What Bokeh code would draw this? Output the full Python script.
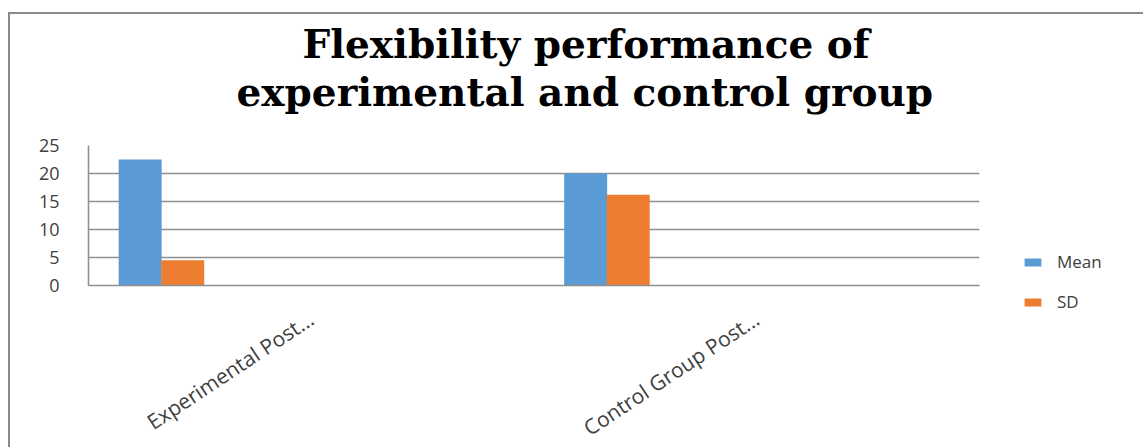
from bokeh.plotting import figure
from bokeh.models import (ColumnDataSource, FactorRange, Range1d, FixedTicker, Title,
                          Legend, LegendItem)
from bokeh.transform import dodge
from bokeh.embed import file_html
from bokeh.resources import INLINE

# ---- data ----
categories = ["Experimental Post...", "Control Group Post..."]
mean_values = [22.5, 20.0]
sd_values = [4.5, 16.2]
series_names = ["Mean", "SD"]
y_ticks = [0, 5, 10, 15, 20, 25]
title_lines = ["Flexibility performance of", "experimental and control group"]

src = ColumnDataSource(dict(cat=categories, mean=mean_values, sd=sd_values))

p = figure(frame_width=891, frame_height=140, output_backend="svg", toolbar_location=None,
           x_range=FactorRange(*categories), y_range=Range1d(0, 25),
           title=None, min_border_left=78, min_border_right=164,
           min_border_top=131, min_border_bottom=148)
p.background_fill_color = "white"
p.border_fill_color = "white"
p.outline_line_color = None
p.styles = {"margin-left": "8px", "margin-top": "12px",
            "border-left": "2px solid #8a8a8a", "border-top": "2px solid #8a8a8a"}

tfont = "DejaVu Serif"
spacer = Title(text=" ", text_font_size="1px", standoff=28)
t2 = Title(text=title_lines[1], align="left", offset=148, standoff=0,
           text_font=tfont, text_font_size="39px",
           text_font_style="bold", text_color="black")
t1 = Title(text=title_lines[0], align="left", offset=214, standoff=0,
           text_font=tfont, text_font_size="39px",
           text_font_style="bold", text_color="black")
p.add_layout(spacer, "above")
p.add_layout(t2, "above")
p.add_layout(t1, "above")

w = 0.0965
r_mean = p.vbar(x=dodge("cat", -0.384, range=p.x_range), top="mean", width=w,
                source=src, fill_color="#5B9BD5", line_color=None)
r_sd = p.vbar(x=dodge("cat", -0.2885, range=p.x_range), top="sd", width=w,
              source=src, fill_color="#ED7D31", line_color=None)

# axes
grey = "#8f8f8f"
p.yaxis.ticker = FixedTicker(ticks=y_ticks)
p.yaxis.major_tick_line_color = None
p.yaxis.minor_tick_line_color = None
p.yaxis.axis_line_color = grey
p.yaxis.axis_line_width = 1.6
p.yaxis.major_label_standoff = 23
p.yaxis.major_label_text_font = "Open Sans"
p.yaxis.major_label_text_font_size = "18px"
p.yaxis.major_label_text_color = "#404040"

p.xaxis.major_tick_line_color = None
p.xaxis.axis_line_color = grey
p.xaxis.axis_line_width = 1.6
p.xaxis.major_label_orientation = 0.585
p.xaxis.major_label_standoff = 25
p.xaxis.major_label_text_font = "Open Sans"
p.xaxis.major_label_text_font_size = "21px"
p.xaxis.major_label_text_color = "#404040"

p.xgrid.grid_line_color = None
p.ygrid.ticker = FixedTicker(ticks=y_ticks)
p.ygrid.grid_line_color = grey
p.ygrid.grid_line_width = 1.6

legend = Legend(items=[LegendItem(label=series_names[0], renderers=[r_mean]),
                       LegendItem(label=series_names[1], renderers=[r_sd])],
                location=(43, -28), glyph_width=21, glyph_height=10,
                label_height=20, spacing=17, padding=0, margin=0,
                label_standoff=14, border_line_color=None,
                background_fill_alpha=0,
                label_text_font="Open Sans", label_text_font_size="17px",
                label_text_color="#404040")
p.add_layout(legend, "right")

open("out.html", "w").write(file_html(p, INLINE))
